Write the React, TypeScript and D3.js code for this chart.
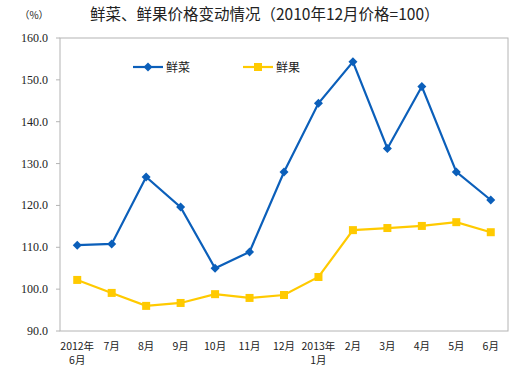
import React from 'react'
import * as d3 from 'd3'

const months = ['2012年\n6月', '7月', '8月', '9月', '10月', '11月', '12月', '2013年\n1月', '2月', '3月', '4月', '5月', '6月']
const vegetables = [110.5, 110.8, 126.8, 119.6, 105.0, 108.9, 128.0, 144.4, 154.3, 133.6, 148.4, 128.0, 121.3]
const fruits = [102.2, 99.1, 96.0, 96.7, 98.8, 97.9, 98.6, 102.9, 114.1, 114.6, 115.1, 116.0, 113.6]
const yTicks = [90, 100, 110, 120, 130, 140, 150, 160]

const BLUE = '#0B5FBA'
const YELLOW = '#FFCA00'
const CJK = '"Noto Sans CJK SC", sans-serif'

export default function App() {
	const width = 515
	const height = 370
	const margin = { top: 38, right: 7, bottom: 39, left: 60 }

	const x = d3.scaleBand<number>()
		.domain(months.map((_, i) => i))
		.range([margin.left, width - margin.right])
	const y = d3.scaleLinear()
		.domain([90, 160])
		.range([height - margin.bottom, margin.top])

	const cx = (i: number) => (x(i) as number) + x.bandwidth() / 2

	const line = d3.line<number>()
		.x((_, i) => cx(i))
		.y(d => y(d))

	const diamond = (px: number, py: number, r: number) =>
		`M${px},${py - r}L${px + r},${py}L${px},${py + r}L${px - r},${py}Z`

	return (
		<svg width={width} height={height} style={{ position: 'absolute', left: 0, top: 0, background: '#fff' }}>
			{/* title */}
			<text x={90} y={20} fontFamily={CJK} fontSize={15.5} fill="#222">鲜菜、鲜果价格变动情况（2010年12月价格=100）</text>
			<text x={34} y={19} fontFamily={CJK} fontSize={10} fill="#222" textAnchor="middle">（%）</text>

			{/* plot frame */}
			<rect x={margin.left} y={margin.top} width={width - margin.left - margin.right}
				height={height - margin.top - margin.bottom} fill="none" stroke="#B4B4B4" strokeWidth={1} />

			{/* y axis */}
			{yTicks.map(t => (
				<g key={t}>
					<line x1={margin.left - 4} x2={margin.left} y1={y(t)} y2={y(t)} stroke="#B4B4B4" />
					<text x={48} y={y(t) + 4} textAnchor="end" fontFamily='"Liberation Serif", "DejaVu Serif", serif' fontSize={12} fill="#222">
						{t.toFixed(1)}
					</text>
				</g>
			))}

			{/* x axis labels */}
			{months.map((m, i) => m.split('\n').map((part, j) => (
				<text key={i + '-' + j} x={cx(i)} y={350 + j * 14} textAnchor="middle" fontFamily={CJK} fontSize={10.5} fill="#222">
					{part}
				</text>
			)))}

			{/* series */}
			<path d={line(vegetables) || ''} fill="none" stroke={BLUE} strokeWidth={2.2} />
			{vegetables.map((v, i) => (
				<path key={i} d={diamond(cx(i), y(v), 4.5)} fill={BLUE} />
			))}
			<path d={line(fruits) || ''} fill="none" stroke={YELLOW} strokeWidth={2.2} />
			{fruits.map((v, i) => (
				<rect key={i} x={cx(i) - 4} y={y(v) - 4} width={8} height={8} fill={YELLOW} />
			))}

			{/* legend */}
			<line x1={133} x2={163} y1={67} y2={67} stroke={BLUE} strokeWidth={2.2} />
			<path d={diamond(148, 67, 4.5)} fill={BLUE} />
			<text x={166} y={71.5} fontFamily={CJK} fontSize={12} fill="#222">鲜菜</text>
			<line x1={243} x2={273} y1={67} y2={67} stroke={YELLOW} strokeWidth={2.2} />
			<rect x={254} y={63} width={8} height={8} fill={YELLOW} />
			<text x={276} y={71.5} fontFamily={CJK} fontSize={12} fill="#222">鲜果</text>
		</svg>
	)
}
